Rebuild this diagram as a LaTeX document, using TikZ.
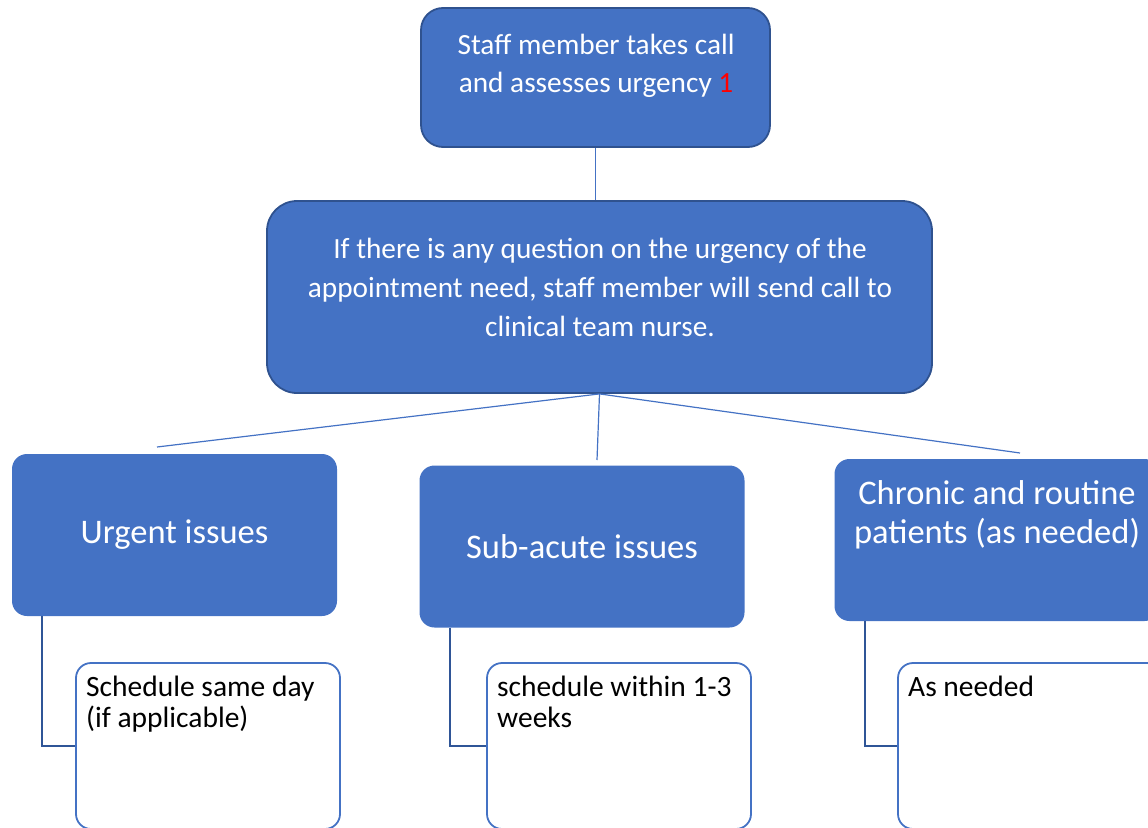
\documentclass[tikz,border=0pt]{standalone}
\usepackage{fontspec}
\setmainfont{Carlito}
\usetikzlibrary{calc}
\definecolor{boxblue}{HTML}{4472C4}
\definecolor{edgeblue}{HTML}{2F528F}
\definecolor{elbowblue}{HTML}{2F5597}
\begin{document}
\begin{tikzpicture}[x=1pt,y=-1pt,
  topbox/.style={draw=edgeblue, line width=1.8pt, fill=boxblue, rounded corners=22pt, inner sep=0pt},
  catbox/.style={fill=boxblue, rounded corners=15pt, inner sep=0pt, minimum width=325pt, minimum height=162pt},
  notebox/.style={draw=boxblue, line width=1.8pt, fill=white, rounded corners=15pt, inner sep=0pt, minimum width=264pt, minimum height=166pt},
  whitetext/.style={text=white, align=center, inner sep=0pt},
  blacktext/.style={text=black, align=left, inner sep=0pt, anchor=north west, font=\fontsize{29.5}{31}\selectfont},
  link/.style={draw=boxblue, line width=1.2pt},
  elbow/.style={draw=elbowblue, line width=2pt}
]
\useasboundingbox (0,0) rectangle (1148,827);
\clip (0,0) rectangle (1148,827);

% top box
\node[topbox, minimum width=349pt, minimum height=139pt] (a) at (595.5,77.5) {};
\node[whitetext, font=\fontsize{29.3}{38}\selectfont] (at) at (596,66)
  {Staff member takes call\\and assesses urgency \textcolor{red}{1}};

% middle box
\node[topbox, rounded corners=30pt, minimum width=665pt, minimum height=192pt] (b) at (599.5,297) {};
\node[whitetext, font=\fontsize{29.3}{39}\selectfont] (bt) at (600,287)
  {If there is any question on the urgency of the\\appointment need, staff member will send call to\\clinical team nurse.};

% category boxes
\node[catbox, whitetext, font=\fontsize{34.5}{39}\selectfont] (u) at (174.5,535) {Urgent issues};
\node[catbox, whitetext, font=\fontsize{34.5}{39}\selectfont] (s) at (582,546.5) {Sub-acute issues};
\node[catbox] (c) at (997,540) {};
\node[whitetext, font=\fontsize{34.5}{39}\selectfont] (ct) at (997,515)
  {Chronic and routine\\patients (as needed)};

% note boxes
\node[notebox] (w1) at (208,746) {};
\node[notebox] (w2) at (619,746) {};
\node[notebox] (w3) at (1030,746) {};
\node[blacktext] (w1t) at (86,676) {Schedule same day\\(if applicable)};
\node[blacktext] (w2t) at (497,676) {schedule within 1-3\\weeks};
\node[blacktext] (w3t) at (908,676) {As needed};

% connectors
\coordinate (uend) at (157,447);
\coordinate (send) at (597,460);
\coordinate (cend) at (1020,453);
\draw[link] (a.south) -- (a.south |- b.north);
\draw[link] (b.south) -- (uend);
\draw[link] (b.south) -- (send);
\draw[link] (b.south) -- (cend);

\draw[elbow] ($(u.south west)+(30,0)$) |- (w1.west);
\draw[elbow] ($(s.south west)+(31,0)$) |- (w2.west);
\draw[elbow] ($(c.south west)+(31,0)$) |- (w3.west);
\end{tikzpicture}
\end{document}
